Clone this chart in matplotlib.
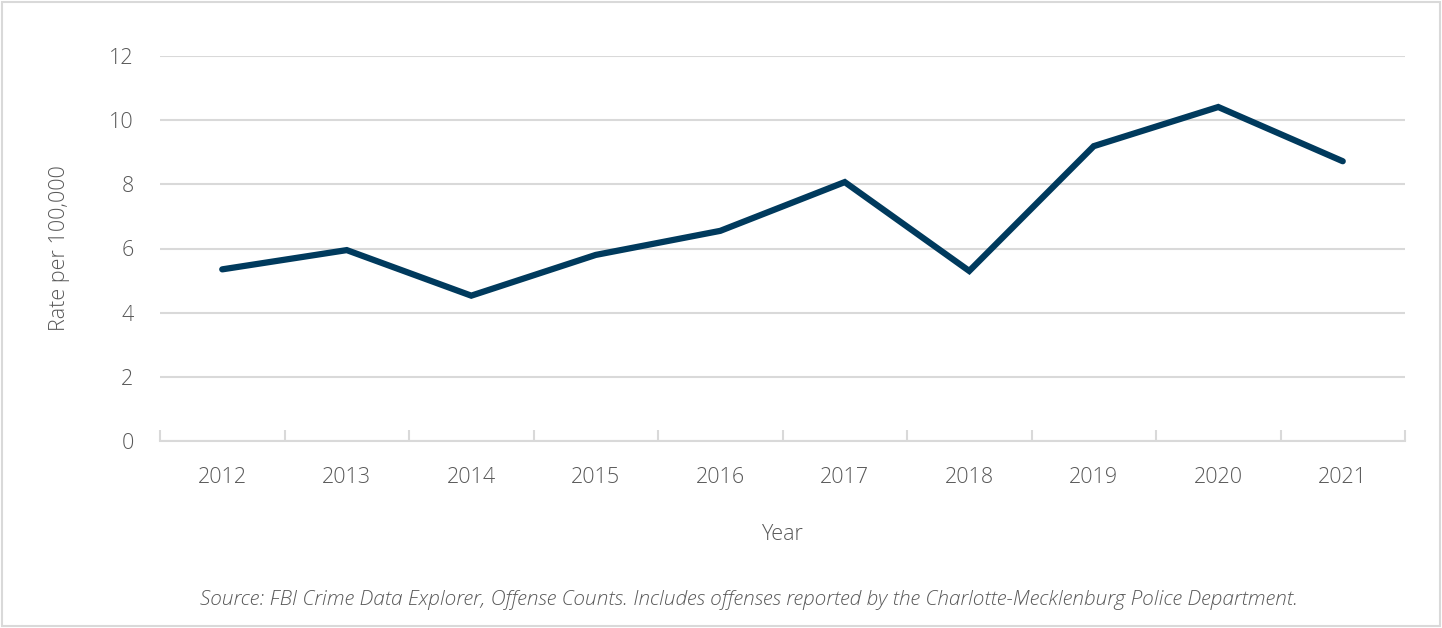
import matplotlib
matplotlib.use("Agg")
import matplotlib.pyplot as plt
from matplotlib.patches import Rectangle

years = ["2012", "2013", "2014", "2015", "2016", "2017", "2018", "2019", "2020", "2021"]
rates = [5.35, 5.95, 4.53, 5.80, 6.55, 8.07, 5.30, 9.19, 10.41, 8.72]
yticks = [0, 2, 4, 6, 8, 10, 12]

FONT = "Open Sans"
TXT = "#595959"

fig = plt.figure(figsize=(14.42, 6.28), dpi=100)
fig.patch.set_facecolor("white")
fig.add_artist(Rectangle((0.0015, 0.003), 0.997, 0.994, transform=fig.transFigure,
                         fill=False, edgecolor="#d9d9d9", linewidth=1.5))

ax = fig.add_axes([160/1442, 1-441/628, (1405-160)/1442, (441-56)/628])
x = list(range(len(years)))
ax.plot(x, rates, color="#003a5d", linewidth=4.5, solid_joinstyle="miter",
        solid_capstyle="round", zorder=3)

ax.set_xlim(-0.5, len(years) - 0.5)
ax.set_ylim(0, 12)
ax.set_yticks(yticks)
ax.set_yticklabels([str(v) for v in yticks], fontsize=15.5, color=TXT,
                   fontfamily=FONT, fontweight="light")
ax.grid(axis="y", color="#d9d9d9", linewidth=1.5, zorder=0)
ax.tick_params(axis="y", length=0, pad=19)

ax.set_xticks(x)
ax.set_xticklabels(years, fontsize=15.5, color=TXT, fontfamily=FONT, fontweight="light")
ax.tick_params(axis="x", which="major", length=0, pad=19)
ax.set_xticks([i - 0.5 for i in range(len(years) + 1)], minor=True)
ax.tick_params(axis="x", which="minor", direction="in", length=8, width=1.5,
               color="#d9d9d9")

for s in ["top", "right", "left"]:
    ax.spines[s].set_visible(False)
ax.spines["bottom"].set_color("#d9d9d9")
ax.spines["bottom"].set_linewidth(1.5)

ax.set_xlabel("Year", fontsize=15.5, color=TXT, fontfamily=FONT, fontweight="light")
ax.xaxis.set_label_coords(0.5 + (782 - 782.5) / 1245, -(535 - 441) / 385)
ax.xaxis.label.set_va("center")
ax.set_ylabel("Rate per 100,000", fontsize=15.5, color=TXT, fontfamily=FONT,
              fontweight="light")
ax.yaxis.set_label_coords(-(160 - 60) / 1245, 0.5 + (249 - 248.5) / 385)
ax.yaxis.label.set_va("center")

fig.text(749 / 1442, 1 - 600 / 628,
         "Source: FBI Crime Data Explorer, Offense Counts. Includes offenses reported by the Charlotte-Mecklenburg Police Department.",
         ha="center", va="center", fontsize=15, style="italic", color=TXT,
         fontfamily=FONT, fontweight="light")

fig.savefig("out.png", dpi=100, facecolor="white")
